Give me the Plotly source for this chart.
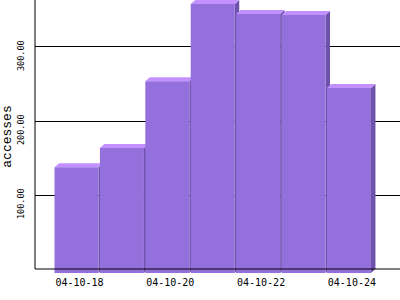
import plotly.graph_objects as go

categories = ["04-10-18", "04-10-19", "04-10-20", "04-10-21", "04-10-22", "04-10-23", "04-10-24"]
accesses = [143, 169, 259, 363.5, 350, 348.5, 250]
y_ticks = [100, 200, 300]
x_tick_labels = ["04-10-18", "04-10-20", "04-10-22", "04-10-24"]

FRONT = "#9370DB"
TOP = "#C291FF"
SIDE = "#6E52AC"

# 3D geometry (data units)
DX = 0.099      # horizontal depth
DY = 5.4        # vertical depth
L = -0.55       # front face left relative to category center
R = 0.42        # front face right relative to category center

sx, sy, tx, ty, fx, fy = [], [], [], [], [], []
for i, v in enumerate(accesses):
    c = i
    sx += [c + R, c + R + DX, c + R + DX, c + R, c + R, None]
    sy += [-DY, 0, v, v - DY, -DY, None]
    tx += [c + L, c + R, c + R + DX, c + L + DX, c + L, None]
    ty += [v - DY, v - DY, v, v, v - DY, None]
    fx += [c + L, c + R, c + R, c + L, c + L, None]
    fy += [-DY, -DY, v - DY, v - DY, -DY, None]

fig = go.Figure()
for xs, ys, col in [(sx, sy, SIDE), (tx, ty, TOP), (fx, fy, FRONT)]:
    fig.add_trace(go.Scatter(x=xs, y=ys, mode="lines", fill="toself",
                             fillcolor=col, line=dict(width=0, color=col),
                             hoverinfo="skip", showlegend=False))

ymax = max(accesses)
fig.update_layout(
    width=400, height=300,
    margin=dict(l=35, r=0, t=0, b=27),
    paper_bgcolor="white", plot_bgcolor="white",
    showlegend=False,
    xaxis=dict(range=[-0.98, 7.06], tickmode="array",
               tickvals=[categories.index(t) for t in x_tick_labels],
               ticktext=x_tick_labels, showgrid=False, zeroline=False,
               showline=False, ticks="", ticklabelstandoff=2,
               tickfont=dict(family="DejaVu Sans Mono", size=10, color="black")),
    yaxis=dict(range=[-DY, ymax], tickmode="array", tickvals=y_ticks,
               tickformat=".2f", showgrid=True, gridcolor="black", gridwidth=1,
               zeroline=False, showline=False, ticks="", tickangle=-90,
               ticklabelshift=10, ticklabelstandoff=8,
               tickfont=dict(family="Liberation Sans Narrow, DejaVu Sans Mono", size=8.5, color="black"),
               title=dict(text="accesses", standoff=6,
                          font=dict(family="Liberation Mono, DejaVu Sans Mono", size=13, color="black"))),
    shapes=[
        dict(type="line", xref="paper", yref="y", x0=0, x1=1, y0=0, y1=0,
             line=dict(color="black", width=1), layer="above"),
        dict(type="line", xref="paper", yref="y", x0=0, x1=0, y0=0, y1=ymax,
             line=dict(color="black", width=1), layer="above"),
    ],
)

fig.write_html("out.html")
